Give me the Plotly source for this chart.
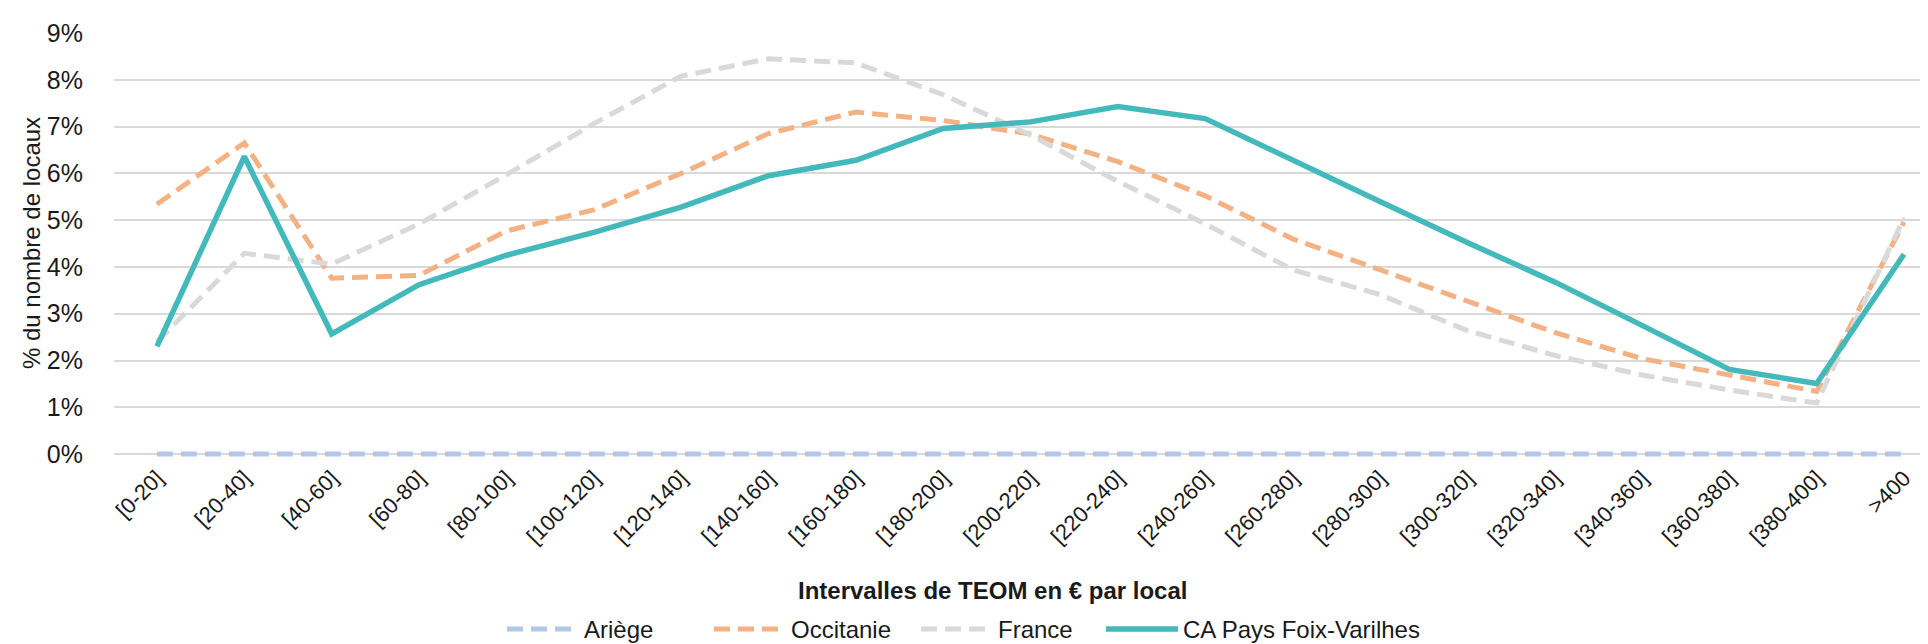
import plotly.graph_objects as go

categories = ["[0-20]", "[20-40]", "[40-60]", "[60-80]", "[80-100]", "[100-120]", "[120-140]",
              "[140-160]", "[160-180]", "[180-200]", "[200-220]", "[220-240]", "[240-260]",
              "[260-280]", "[280-300]", "[300-320]", "[320-340]", "[340-360]", "[360-380]",
              "[380-400]", ">400"]

ariege = [0.0] * 21
occitanie = [5.34, 6.65, 3.76, 3.82, 4.77, 5.22, 6.00, 6.85, 7.31, 7.13, 6.84, 6.25, 5.52,
             4.60, 3.94, 3.27, 2.60, 2.04, 1.69, 1.34, 4.96]
france = [2.40, 4.29, 4.06, 4.92, 5.97, 7.06, 8.08, 8.45, 8.36, 7.68, 6.82, 5.83, 4.92,
          3.94, 3.41, 2.64, 2.11, 1.69, 1.37, 1.09, 5.05]
ca_foix = [2.30, 6.36, 2.57, 3.62, 4.25, 4.74, 5.28, 5.95, 6.28, 6.96, 7.10, 7.43, 7.17,
           6.30, 5.40, 4.52, 3.68, 2.75, 1.81, 1.51, 4.27]

series_names = ["Ariège", "Occitanie", "France", "CA Pays Foix-Varilhes"]

W, H = 1928, 644
PX_PER_PCT = 47.44
EXTRA = 5  # px below the 0% line so the Ariège line is not clipped
ML, MR, MT, MB = 106, 0, 25, 192 - EXTRA
PW = W - ML - MR
PH = H - MT - MB
Y_MIN = -EXTRA / PX_PER_PCT / 100

def px_x(p):
    return (p - ML) / PW

def px_y(p):
    return (H - MB - p) / PH

FONT = "Liberation Sans, Arial, sans-serif"
TXT = "#1a1a1a"
FS = 24

fig = go.Figure()
fig.add_trace(go.Scatter(x=categories, y=[v / 100 for v in ariege], name=series_names[0],
                         mode="lines", line=dict(color="#B4C7E7", width=5, dash="16px,8px"),
                         legend="legend"))
fig.add_trace(go.Scatter(x=categories, y=[v / 100 for v in occitanie], name=series_names[1],
                         mode="lines", line=dict(color="#F4B183", width=5, dash="16px,8px"),
                         legend="legend"))
fig.add_trace(go.Scatter(x=categories, y=[v / 100 for v in france], name=series_names[2],
                         mode="lines", line=dict(color="#D9D9D9", width=5, dash="16px,8px"),
                         legend="legend"))
fig.add_trace(go.Scatter(x=categories, y=[v / 100 for v in ca_foix], name=series_names[3],
                         mode="lines", line=dict(color="#44B9BB", width=5.5),
                         legend="legend2"))

legend_common = dict(orientation="h", y=px_y(630), xanchor="left", yanchor="middle",
                     font=dict(size=FS, color=TXT), itemwidth=72, bgcolor="rgba(0,0,0,0)")

fig.update_layout(
    width=W, height=H,
    margin=dict(l=ML, r=MR, t=MT, b=MB, pad=0),
    paper_bgcolor="white", plot_bgcolor="white",
    font=dict(family=FONT, size=FS, color=TXT),
    showlegend=True,
    legend=dict(x=px_x(494), entrywidth=120, entrywidthmode="pixels", **legend_common),
    legend2=dict(x=px_x(1093), **legend_common),
    xaxis=dict(type="category", range=[-0.492, 20.366], showgrid=False, zeroline=False,
               showline=False, ticks="", tickangle=-45, tickfont=dict(size=22, color=TXT),
               ticklabelstandoff=1),
    yaxis=dict(range=[Y_MIN, 0.09], tick0=0, dtick=0.01, tickformat=".0%", showgrid=True,
               gridcolor="#D9D9D9", gridwidth=1.5, zeroline=False, showline=False, ticks="",
               tickfont=dict(size=25, color=TXT), ticklabelstandoff=30),
    annotations=[
        dict(text="% du nombre de locaux", x=px_x(23), y=px_y(238), xref="paper", yref="paper",
             xanchor="center", yanchor="middle", textangle=-90, showarrow=False,
             font=dict(size=FS, color=TXT, family=FONT)),
        dict(text="<b>Intervalles de TEOM en € par local</b>", x=px_x(984), y=px_y(590),
             xref="paper", yref="paper", xanchor="center", yanchor="middle", showarrow=False,
             font=dict(size=FS, color=TXT, family=FONT)),
    ],
)

fig.write_html("out.html")
